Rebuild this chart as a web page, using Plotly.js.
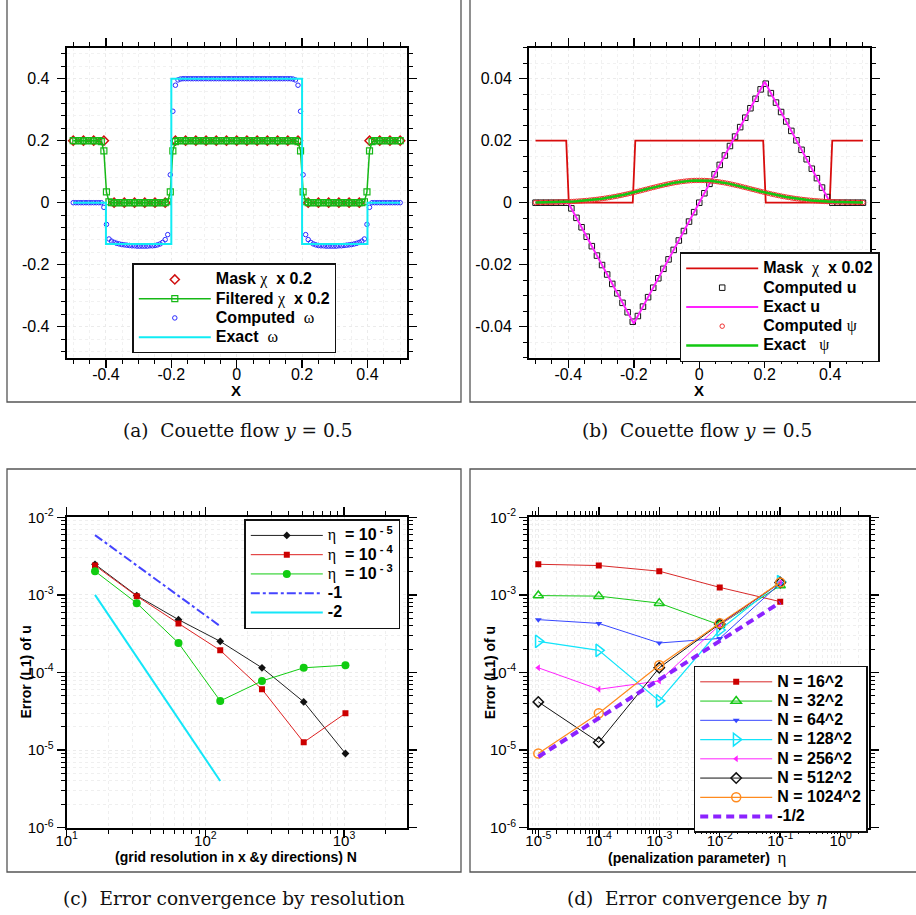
<!DOCTYPE html>
<html>
<head>
<meta charset="utf-8">
<script src="https://cdn.plot.ly/plotly-3.0.1.min.js"></script>
<style>
  html, body { margin: 0; padding: 0; background: #fff; }
  #fig { width: 916px; height: 915px; }
</style>
</head>
<body>
<div id="fig"></div>
<script>
// ---------- (a) Couette flow at y = 0.5 : mask, filtered mask, vorticity ----------
const gridStart = -0.5;
const step128 = 0.0078125;   // spacing of the 128-cell grid
const step64 = 0.015625;     // every 2nd grid point
const step32 = 0.03125;      // every 4th grid point

const maskChi = [0.2,0.2,0.2,0.2, 0,0,0,0,0,0, 0.2,0.2,0.2,0.2,0.2,0.2,0.2,0.2,0.2,0.2,0.2,0.2,0.2, 0,0,0,0,0,0, 0.2,0.2,0.2,0.2];

const filteredChi = [
  0.2,0.2,0.2,0.2,0.2,0.2,0.2,0.2,0.2,0.2,0.2, 0.197,0.167,0.035,0.003,
  0,0,0,0,0,0,0,0,0,0,0,0,0,0,0,0,0,0,0,0,0,0,
  0.003,0.035,0.167,0.197,
  0.2,0.2,0.2,0.2,0.2,0.2,0.2,0.2,0.2,0.2,0.2,0.2,0.2,0.2,0.2,0.2,0.2,0.2,0.2,0.2,0.2,0.2,0.2,0.2,
  0.2,0.2,0.2,0.2,0.2,0.2,0.2,0.2,0.2,0.2,0.2,0.2,0.2,0.2,0.2,0.2,0.2,0.2,0.2,0.2,0.2,0.2,0.2,
  0.197,0.167,0.035,0.003,
  0,0,0,0,0,0,0,0,0,0,0,0,0,0,0,0,0,0,0,0,0,0,
  0.003,0.035,0.167,0.197,
  0.2,0.2,0.2,0.2,0.2,0.2,0.2,0.2,0.2,0.2,0.2
];

const omegaComputed = [
  0,0,0,0,0,0,0,0,0,0,0,0,
  -0.015,-0.070,-0.117,-0.124,-0.128,-0.131,-0.133,-0.135,-0.136,-0.137,-0.138,-0.139,-0.139,
  -0.140,-0.140,-0.140,-0.140,-0.140,-0.139,-0.139,-0.138,-0.136,-0.133,-0.128,-0.119,-0.103,
  0.090,0.295,0.379,0.396,0.399,
  0.4,0.4,0.4,0.4,0.4,0.4,0.4,0.4,0.4,0.4,0.4,0.4,0.4,0.4,0.4,0.4,0.4,0.4,0.4,0.4,0.4,0.4,
  0.4,0.4,0.4,0.4,0.4,0.4,0.4,0.4,0.4,0.4,0.4,0.4,0.4,0.4,0.4,0.4,0.4,0.4,0.4,0.4,0.4,
  0.399,0.396,0.379,0.295,0.090,
  -0.103,-0.119,-0.128,-0.133,-0.136,-0.138,-0.139,-0.139,-0.140,-0.140,-0.140,-0.140,-0.140,
  -0.139,-0.139,-0.138,-0.137,-0.136,-0.135,-0.133,-0.131,-0.128,-0.124,-0.117,-0.070,-0.015,
  0,0,0,0,0,0,0,0,0,0,0,0
];

const omegaExactX = [-0.5, -0.4, -0.4, -0.2, -0.2, 0.2, 0.2, 0.4, 0.4, 0.5];
const omegaExactY = [0, 0, -0.1333, -0.1333, 0.4, 0.4, -0.1333, -0.1333, 0, 0];

// ---------- (b) Couette flow at y = 0.5 : velocity u and stream function psi ----------
const maskLineX = [-0.5, -0.40625, -0.3984375, -0.203125, -0.1953125, 0.1953125, 0.203125, 0.3984375, 0.40625, 0.5];
const maskLineY = [0.02, 0.02, 0, 0, 0.02, 0.02, 0, 0, 0.02, 0.02];

const uComputed = [
  0,0,0,0,0,0,0,
  -0.00183,-0.00488,-0.00792,-0.01097,-0.01402,-0.01706,-0.02011,-0.02316,-0.02620,-0.02925,-0.03230,-0.03534,-0.03839,
  -0.03656,-0.03352,-0.03047,-0.02742,-0.02438,-0.02133,-0.01828,-0.01523,-0.01219,-0.00914,-0.00609,-0.00305,
  0,
  0.00305,0.00609,0.00914,0.01219,0.01523,0.01828,0.02133,0.02438,0.02742,0.03047,0.03352,0.03656,
  0.03839,0.03534,0.03230,0.02925,0.02620,0.02316,0.02011,0.01706,0.01402,0.01097,0.00792,0.00488,0.00183,
  0,0,0,0,0,0,0
];
const uExactX = [-0.5, -0.4, -0.2, 0.2, 0.4, 0.5];
const uExactY = [0, 0, -0.039, 0.039, 0, 0];

const psiComputed = [
  0.00006,0.00007,0.00008,0.00009,0.00010,0.00012,0.00013,0.00015,0.00018,0.00020,
  0.00023,0.00026,0.00029,0.00033,0.00037,0.00042,0.00047,0.00053,0.00059,0.00065,
  0.00073,0.00081,0.00089,0.00098,0.00108,0.00119,0.00130,0.00142,0.00155,0.00169,
  0.00183,0.00198,0.00214,0.00231,0.00248,0.00266,0.00284,0.00304,0.00323,0.00343,
  0.00364,0.00385,0.00406,0.00427,0.00448,0.00470,0.00491,0.00511,0.00532,0.00552,
  0.00571,0.00589,0.00607,0.00624,0.00640,0.00654,0.00667,0.00679,0.00690,0.00699,
  0.00706,0.00712,0.00717,0.00719,0.00720,
  0.00719,0.00717,0.00712,0.00706,0.00699,0.00690,0.00679,0.00667,0.00654,0.00640,
  0.00624,0.00607,0.00589,0.00571,0.00552,0.00532,0.00511,0.00491,0.00470,0.00448,
  0.00427,0.00406,0.00385,0.00364,0.00343,0.00323,0.00304,0.00284,0.00266,0.00248,
  0.00231,0.00214,0.00198,0.00183,0.00169,0.00155,0.00142,0.00130,0.00119,0.00108,
  0.00098,0.00089,0.00081,0.00073,0.00065,0.00059,0.00053,0.00047,0.00042,0.00037,
  0.00033,0.00029,0.00026,0.00023,0.00020,0.00018,0.00015,0.00013,0.00012,0.00010,
  0.00009,0.00008,0.00007,0.00006
];
const psiExact = psiComputed;

// ---------- (c) L1 error of u versus grid resolution N ----------
const gridN = [16, 32, 64, 128, 256, 512, 1024];
const errEta1em5 = [2.48e-3, 9.8e-4, 4.8e-4, 2.52e-4, 1.15e-4, 4.18e-5, 9.04e-6];
const errEta1em4 = [2.39e-3, 9.64e-4, 4.29e-4, 1.93e-4, 6.08e-5, 1.26e-5, 2.98e-5];
const errEta1em3 = [2.02e-3, 7.83e-4, 2.40e-4, 4.30e-5, 7.78e-5, 1.15e-4, 1.24e-4];
const slope1X = [16, 128], slope1Y = [5.9e-3, 3.95e-4];
const slope2X = [16, 128], slope2Y = [1.0e-3, 4.0e-6];

// ---------- (d) L1 error of u versus penalization parameter eta ----------
const etaVals = [1e-5, 1e-4, 1e-3, 1e-2, 1e-1];
const errN16   = [2.48e-3, 2.39e-3, 2.02e-3, 1.25e-3, 8.18e-4];
const errN32   = [9.8e-4, 9.64e-4, 7.83e-4, 4.10e-4, 1.32e-3];
const errN64   = [4.8e-4, 4.29e-4, 2.40e-4, 2.75e-4, 1.41e-3];
const errN128  = [2.52e-4, 1.93e-4, 4.30e-5, 3.53e-4, 1.48e-3];
const errN256  = [1.15e-4, 6.08e-5, 7.78e-5, 4.10e-4, 1.44e-3];
const errN512  = [4.18e-5, 1.26e-5, 1.15e-4, 4.22e-4, 1.44e-3];
const errN1024 = [9.04e-6, 2.98e-5, 1.24e-4, 4.30e-4, 1.45e-3];
const halfSlopeX = [1e-5, 1e-1], halfSlopeY = [8.2e-6, 8.0e-4];

// tick labels
const linTickA = [-0.4, -0.2, 0, 0.2, 0.4];
const linTickTextA = ['-0.4', '-0.2', '0', '0.2', '0.4'];
const linTickB = [-0.04, -0.02, 0, 0.02, 0.04];
const linTickTextB = ['-0.04', '-0.02', '0', '0.02', '0.04'];
const logTickN = [10, 100, 1000];
const logTickTextN = ['10<sup>1</sup>', '10<sup>2</sup>', '10<sup>3</sup>'];
const logTickErr = [1e-6, 1e-5, 1e-4, 1e-3, 1e-2];
const logTickTextErr = ['10<sup>-6</sup>', '10<sup>-5</sup>', '10<sup>-4</sup>', '10<sup>-3</sup>', '10<sup>-2</sup>'];
const logTickEta = [1e-5, 1e-4, 1e-3, 1e-2, 1e-1, 1];
const logTickTextEta = ['10<sup>-5</sup>', '10<sup>-4</sup>', '10<sup>-3</sup>', '10<sup>-2</sup>', '10<sup>-1</sup>', '10<sup>0</sup>'];

// ---------- helpers ----------
const W = 916, H = 915;
const px = v => v / W;
const py = v => 1 - v / H;

function minorLog(lo, hi) {           // 2..9 within each decade
  const out = [];
  for (let e = lo; e < hi; e++) for (let m = 2; m <= 9; m++) out.push(m * Math.pow(10, e));
  return out;
}

const big = s => '<span style="font-size:16px"><b>' + s + '</b></span>';
const greek = g => '<span style="font-weight:normal;font-family:Liberation Serif">' + g + '</span>';

function legendAt(x, y) {
  return {
    x: px(x), y: py(y), xanchor: 'left', yanchor: 'top', xref: 'paper', yref: 'paper',
    bgcolor: '#ffffff', bordercolor: '#111111', borderwidth: 1.5,
    itemwidth: 72, tracegroupgap: 0, traceorder: 'normal', itemclick: false, itemdoubleclick: false,
    font: { family: 'Liberation Sans', size: 12.5, color: '#000' }
  };
}

const axisCommon = {
  ticks: 'outside', ticklen: 8, tickwidth: 1.5, tickcolor: '#000',
  showline: true, linewidth: 2, linecolor: '#000', mirror: 'allticks',
  zeroline: false, showgrid: true, gridcolor: '#ebebeb', griddash: 'dot', gridwidth: 1,
  fixedrange: true
};

function linAxis(domain, range, tv, tt, minorStep, anchor, standoff) {
  return Object.assign({}, axisCommon, {
    domain, range, anchor, tickmode: 'array', tickvals: tv, ticktext: tt,
    ticklabelstandoff: standoff,
    tickfont: { family: 'Liberation Sans', size: 16, color: '#000' },
    minor: { dtick: minorStep, tick0: 0, ticks: 'outside', ticklen: 4, tickwidth: 1, tickcolor: '#000',
             showgrid: true, gridcolor: '#f1f1f1', griddash: 'dot' }
  });
}

function logAxis(domain, range, tv, tt, minorVals, anchor, standoff) {
  return Object.assign({}, axisCommon, {
    type: 'log', domain, range, anchor, tickmode: 'array', tickvals: tv, ticktext: tt,
    ticklabelstandoff: standoff,
    tickfont: { family: 'Liberation Sans', size: 15, color: '#000' },
    minor: { tickmode: 'array', tickvals: minorVals, ticks: 'outside', ticklen: 4, tickwidth: 1, tickcolor: '#000',
             showgrid: true, gridcolor: '#efefef', griddash: 'dot' }
  });
}

// ---------- traces ----------
const traces = [
  // (a)
  { name: big('Mask ' + greek('χ') + '  x 0.2'), x0: gridStart, dx: step32, y: maskChi, mode: 'markers',
    xaxis: 'x', yaxis: 'y', legend: 'legend',
    marker: { symbol: 'diamond-open', size: 7, color: '#d01010', line: { width: 1.5 } } },
  { name: big('Filtered ' + greek('χ') + '  x 0.2'), x0: gridStart, dx: step128, y: filteredChi, mode: 'lines+markers',
    xaxis: 'x', yaxis: 'y', legend: 'legend',
    line: { color: '#16b816', width: 1.5 },
    marker: { symbol: 'square-open', size: 6, color: '#16b816', line: { width: 1.2 } } },
  { name: big('Computed  ' + greek('ω')), x0: gridStart, dx: step128, y: omegaComputed, mode: 'markers',
    xaxis: 'x', yaxis: 'y', legend: 'legend',
    marker: { symbol: 'circle-open', size: 4.5, color: '#2a2aff', line: { width: 1 } } },
  { name: big('Exact  ' + greek('ω')), x: omegaExactX, y: omegaExactY, mode: 'lines',
    xaxis: 'x', yaxis: 'y', legend: 'legend',
    line: { color: '#10ecf4', width: 2 } },

  // (b)
  { name: big('Mask  ' + greek('χ') + '  x 0.02'), x: maskLineX, y: maskLineY, mode: 'lines',
    xaxis: 'x2', yaxis: 'y2', legend: 'legend2', line: { color: '#d80c0c', width: 1.8 } },
  { name: big('Computed u'), x0: gridStart, dx: step64, y: uComputed, mode: 'markers',
    xaxis: 'x2', yaxis: 'y2', legend: 'legend2',
    marker: { symbol: 'square-open', size: 5.5, color: '#111', line: { width: 1 } } },
  { name: big('Exact u'), x: uExactX, y: uExactY, mode: 'lines',
    xaxis: 'x2', yaxis: 'y2', legend: 'legend2', line: { color: '#ff22ff', width: 2 } },
  { name: big('Computed ' + greek('ψ')), x0: gridStart, dx: step128, y: psiComputed, mode: 'markers',
    xaxis: 'x2', yaxis: 'y2', legend: 'legend2',
    marker: { symbol: 'circle-open', size: 4.5, color: '#f03030', line: { width: 1 } } },
  { name: big('Exact   ' + greek('ψ')), x0: gridStart, dx: step128, y: psiExact, mode: 'lines',
    xaxis: 'x2', yaxis: 'y2', legend: 'legend2', line: { color: '#12c812', width: 2.5 } },

  // (c)
  { name: big(greek('η') + '  = 10<sup> - 5</sup>'), x: gridN, y: errEta1em5, mode: 'lines+markers',
    xaxis: 'x3', yaxis: 'y3', legend: 'legend3',
    line: { color: '#222', width: 1 }, marker: { symbol: 'diamond', size: 6, color: '#111' } },
  { name: big(greek('η') + '  = 10<sup> - 4</sup>'), x: gridN, y: errEta1em4, mode: 'lines+markers',
    xaxis: 'x3', yaxis: 'y3', legend: 'legend3',
    line: { color: '#dd2222', width: 1 }, marker: { symbol: 'square', size: 6, color: '#cc0000' } },
  { name: big(greek('η') + '  = 10<sup> - 3</sup>'), x: gridN, y: errEta1em3, mode: 'lines+markers',
    xaxis: 'x3', yaxis: 'y3', legend: 'legend3',
    line: { color: '#11cc11', width: 1 }, marker: { symbol: 'circle', size: 8, color: '#11cc11' } },
  { name: big('-1'), x: slope1X, y: slope1Y, mode: 'lines',
    xaxis: 'x3', yaxis: 'y3', legend: 'legend3', line: { color: '#4444ff', width: 2, dash: 'dashdot' } },
  { name: big('-2'), x: slope2X, y: slope2Y, mode: 'lines',
    xaxis: 'x3', yaxis: 'y3', legend: 'legend3', line: { color: '#14e6f8', width: 2 } },

  // (d)
  { name: big('N = 16^2'), x: etaVals, y: errN16, mode: 'lines+markers', xaxis: 'x4', yaxis: 'y4', legend: 'legend4',
    line: { color: '#d82828', width: 1 }, marker: { symbol: 'square', size: 6, color: '#cc0000' } },
  { name: big('N = 32^2'), x: etaVals, y: errN32, mode: 'lines+markers', xaxis: 'x4', yaxis: 'y4', legend: 'legend4',
    line: { color: '#18c818', width: 1 }, marker: { symbol: 'triangle-up-open', size: 9, color: '#18c818', line: { width: 1.5 } } },
  { name: big('N = 64^2'), x: etaVals, y: errN64, mode: 'lines+markers', xaxis: 'x4', yaxis: 'y4', legend: 'legend4',
    line: { color: '#3646ff', width: 1 }, marker: { symbol: 'triangle-down', size: 6, color: '#3646ff' } },
  { name: big('N = 128^2'), x: etaVals, y: errN128, mode: 'lines+markers', xaxis: 'x4', yaxis: 'y4', legend: 'legend4',
    line: { color: '#12e4fa', width: 1.2 }, marker: { symbol: 'triangle-right-open', size: 11, color: '#12e4fa', line: { width: 1.5 } } },
  { name: big('N = 256^2'), x: etaVals, y: errN256, mode: 'lines+markers', xaxis: 'x4', yaxis: 'y4', legend: 'legend4',
    line: { color: '#ff22ff', width: 1 }, marker: { symbol: 'triangle-left', size: 6, color: '#ff22ff' } },
  { name: big('N = 512^2'), x: etaVals, y: errN512, mode: 'lines+markers', xaxis: 'x4', yaxis: 'y4', legend: 'legend4',
    line: { color: '#111', width: 1 }, marker: { symbol: 'diamond-open', size: 8, color: '#111', line: { width: 1.5 } } },
  { name: big('N = 1024^2'), x: etaVals, y: errN1024, mode: 'lines+markers', xaxis: 'x4', yaxis: 'y4', legend: 'legend4',
    line: { color: '#ff8a1e', width: 1.2 }, marker: { symbol: 'circle-open', size: 9, color: '#ff8a1e', line: { width: 1.5 } } },
  { name: big('-1/2'), x: halfSlopeX, y: halfSlopeY, mode: 'lines', xaxis: 'x4', yaxis: 'y4', legend: 'legend4',
    line: { color: '#8c22ff', width: 4, dash: '8px,5px' } }
];

// ---------- layout ----------
const domAX = [px(66.7), px(406.7)], domBX = [px(529), px(869.5)];
const domTopY = [py(357.7), py(47.7)], domBotY = [py(827.7), py(517.3)];

const frameStyle = { color: '#555', width: 1.3 };
const frame = (x0, y0, x1, y1) => ({ type: 'rect', xref: 'paper', yref: 'paper',
  x0: px(x0), x1: px(x1), y0: py(y1), y1: py(y0), line: frameStyle, fillcolor: 'rgba(0,0,0,0)', layer: 'below' });

const note = (text, x, y, size, extra) => Object.assign({
  text, x: px(x), y: py(y), xref: 'paper', yref: 'paper', showarrow: false,
  xanchor: 'center', yanchor: 'middle',
  font: { family: 'Liberation Sans', size, color: '#000' }
}, extra || {});
const caption = (text, x, y) => note(text, x, y, 18.5, { font: { family: 'DejaVu Serif', size: 18.5, color: '#111' } });

const layout = {
  width: W, height: H, margin: { l: 0, r: 0, t: 0, b: 0 },
  paper_bgcolor: '#fff', plot_bgcolor: '#fff',
  font: { family: 'Liberation Sans', color: '#000' },
  showlegend: true,
  xaxis:  linAxis(domAX, [-0.52, 0.52], linTickA, linTickTextA, 0.05, 'y', -7),
  yaxis:  linAxis(domTopY, [-0.5, 0.5], linTickA, linTickTextA, 0.04, 'x', 4),
  xaxis2: linAxis(domBX, [-0.52, 0.52], linTickA, linTickTextA, 0.05, 'y2', -7),
  yaxis2: linAxis(domTopY, [-0.05, 0.05], linTickB, linTickTextB, 0.005, 'x2', 4),
  xaxis3: logAxis(domAX, [1, 3.452], logTickN, logTickTextN, minorLog(1, 4), 'y3', -10),
  yaxis3: logAxis(domBotY, [-6, -2], logTickErr, logTickTextErr, minorLog(-6, -2), 'x3', 0),
  xaxis4: logAxis([px(529), px(869)], [-5.154, 0.468], logTickEta, logTickTextEta, minorLog(-6, 1), 'y4', -10),
  yaxis4: logAxis(domBotY, [-6, -2], logTickErr, logTickTextErr, minorLog(-6, -2), 'x4', 0),
  legend:  legendAt(132.3, 263.3),
  legend2: legendAt(679.7, 252.3),
  legend3: legendAt(244.3, 519.3),
  legend4: legendAt(693.7, 665.7),
  shapes: [
    frame(7, -5, 461, 402),
    frame(470, -5, 925, 402),
    frame(7, 469, 461, 872),
    frame(470, 469, 925, 872)
  ],
  annotations: [
    note('<b>X</b>', 236, 391, 15),
    note('<b>X</b>', 698.7, 391, 15),
    note('<b>(grid resolution in x &y directions) N</b>', 236, 857, 14),
    note('<b>(penalization parameter)</b>  <span style="font-family:Liberation Serif;font-size:17px">η</span>', 697, 857, 14),
    note('<b>Error (L1) of u</b>', 25, 672.5, 14, { textangle: -90 }),
    note('<b>Error (L1) of u</b>', 489.7, 672.5, 14, { textangle: -90 }),
    caption('(a)\u00a0 Couette flow <i>y</i> = 0.5', 237, 430),
    caption('(b)\u00a0 Couette flow <i>y</i> = 0.5', 697, 430),
    caption('(c)\u00a0 Error convergence by resolution', 234, 898),
    caption('(d)\u00a0 Error convergence by <i>η</i>', 697, 898)
  ]
};

Plotly.newPlot('fig', traces, layout, { staticPlot: true, displayModeBar: false });
</script>
</body>
</html>
